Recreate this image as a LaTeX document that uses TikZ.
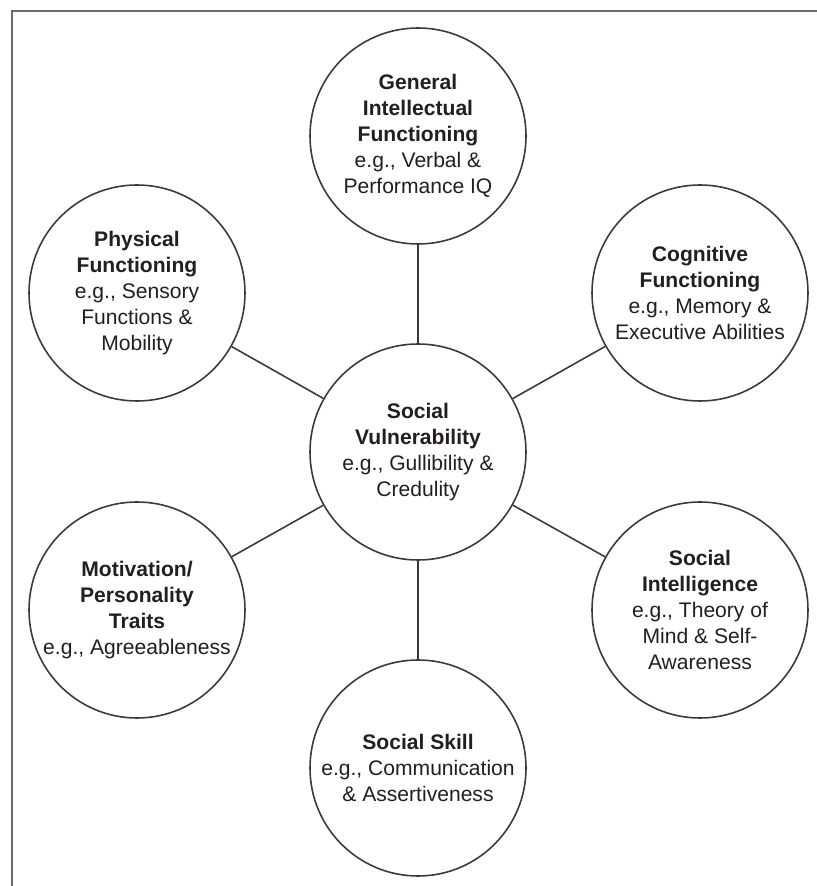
\documentclass[tikz,border=0pt]{standalone}
\usepackage{fontspec}
\setmainfont{Liberation Sans}
\definecolor{MapInk}{HTML}{231F20}
\definecolor{MapLine}{HTML}{3A3A3A}
\definecolor{MapFrame}{HTML}{6B6B6B}
\tikzset{
  every node/.style={font=\fontsize{12}{14.8}\selectfont, text=MapInk},
  factor/.style={circle, draw=MapLine, line width=0.9pt, fill=white, minimum size=4.32cm, inner sep=-3mm, align=center},
  spoke/.style={draw=MapLine, line width=0.9pt},
  frame/.style={draw=MapFrame, line width=1.2pt},
}

\begin{document}
\begin{tikzpicture}[x=1cm,y=1cm]
  \useasboundingbox (0,0) rectangle (16.34,17.72);
  \draw[frame] (0.24,0) -- (0.24,17.5) -- (16.34,17.5);
  \node[factor] (sv) at (8.36,8.68) {\textbf{Social}\\\textbf{Vulnerability}\\e.g., Gullibility \&\\Credulity};
  \node[factor] (gif) at (8.36,15.0) {\textbf{General}\\\textbf{Intellectual}\\\textbf{Functioning}\\e.g., Verbal \&\\Performance IQ};
  \node[factor] (phys) at (2.74,11.86) {\textbf{Physical}\\\textbf{Functioning}\\e.g., Sensory\\Functions \&\\Mobility};
  \node[factor] (cog) at (14.0,11.86) {\textbf{Cognitive}\\\textbf{Functioning}\\e.g., Memory \&\\Executive Abilities};
  \node[factor] (mot) at (2.74,5.52) {\textbf{Motivation/}\\\textbf{Personality}\\\textbf{Traits}\\e.g., Agreeableness};
  \node[factor] (si) at (14.0,5.52) {\textbf{Social}\\\textbf{Intelligence}\\e.g., Theory of\\Mind \& Self-\\Awareness};
  \node[factor] (skill) at (8.36,2.36) {\textbf{Social Skill}\\e.g., Communication\\\& Assertiveness};
  \foreach \n in {gif,cog,si,skill,mot,phys}
    \draw[spoke] (sv) -- (\n);
\end{tikzpicture}
\end{document}
